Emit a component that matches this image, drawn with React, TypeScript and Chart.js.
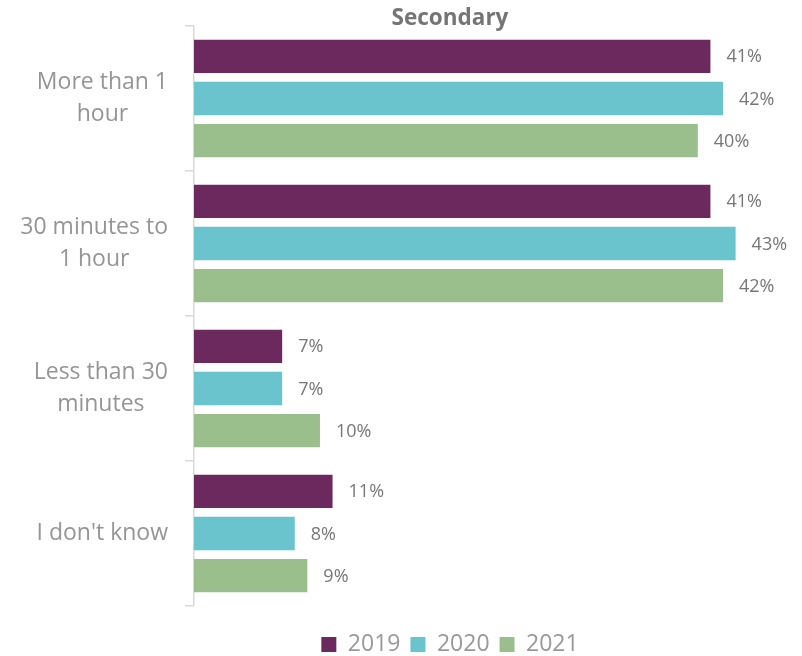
import React, { useEffect, useRef } from "react";
import { Chart, registerables } from "chart.js";

Chart.register(...registerables);

const title = "Secondary";
const categories: string[][] = [
  ["More than 1", "hour"],
  ["30 minutes to", "1 hour"],
  ["Less than 30", "minutes"],
  ["I don't know"],
];
const seriesNames = ["2019", "2020", "2021"];
const values2019 = [41, 41, 7, 11];
const values2020 = [42, 43, 7, 8];
const values2021 = [40, 42, 10, 9];
const seriesColors = ["#6B295E", "#69C4CD", "#9ABF8C"];

const FONT = "'Open Sans', 'DejaVu Sans', sans-serif";

const yLabelPlugin = {
  id: "yLabelPlugin",
  afterDraw(chart: any) {
    const ctx = chart.ctx;
    const yScale = chart.scales.y;
    const labels = chart.data.labels as string[][];
    ctx.save();
    ctx.font = `23px ${FONT}`;
    ctx.fillStyle = "#959595";
    ctx.textAlign = "center";
    ctx.textBaseline = "middle";
    const rightEdge = chart.chartArea.left - 26;
    const lineGap = 31.5;
    labels.forEach((lines, i) => {
      const cy = yScale.getPixelForValue(i);
      const maxW = Math.max(...lines.map((l) => ctx.measureText(l).width));
      const cx = rightEdge - maxW / 2;
      lines.forEach((line, j) => {
        const y = cy + (j - (lines.length - 1) / 2) * lineGap;
        ctx.fillText(line, cx, y);
      });
    });
    ctx.restore();
  },
};

const dataLabelPlugin = {
  id: "dataLabelPlugin",
  afterDatasetsDraw(chart: any) {
    const ctx = chart.ctx;
    ctx.save();
    ctx.font = `18px ${FONT}`;
    ctx.fillStyle = "#777777";
    ctx.textAlign = "left";
    ctx.textBaseline = "middle";
    chart.data.datasets.forEach((ds: any, di: number) => {
      const meta = chart.getDatasetMeta(di);
      meta.data.forEach((bar: any, i: number) => {
        ctx.fillText(`${ds.data[i]}%`, bar.x + 16, bar.y + 1);
      });
    });
    ctx.restore();
  },
};

export default function App() {
  const canvasRef = useRef<HTMLCanvasElement | null>(null);

  useEffect(() => {
    if (!canvasRef.current) return;
    const seriesValues = [values2019, values2020, values2021];
    const chart = new Chart(canvasRef.current, {
      type: "bar",
      data: {
        labels: categories as any,
        datasets: seriesNames.map((name, i) => ({
          label: name,
          data: seriesValues[i],
          backgroundColor: seriesColors[i],
          borderWidth: 0,
          categoryPercentage: 0.873,
          barPercentage: 0.79,
        })),
      },
      options: {
        indexAxis: "y",
        responsive: false,
        animation: false,
        devicePixelRatio: 1,
        layout: { padding: { left: 114, right: 16, top: 0, bottom: -10 } },
        scales: {
          x: {
            display: true,
            min: 0,
            max: 47,
            grid: { display: false },
            ticks: { display: false },
            border: { display: false },
            afterFit: (scale: any) => {
              scale.height = 17;
            },
          },
          y: {
            display: true,
            ticks: { display: false },
            grid: {
              display: true,
              drawOnChartArea: false,
              drawTicks: true,
              tickLength: 9,
              color: "#D9D9D9",
              lineWidth: 1.5,
              offset: true,
            },
            border: { display: true, color: "#D9D9D9", width: 1.5 },
            afterFit: (scale: any) => {
              scale.width = 80;
            },
          },
        },
        plugins: {
          title: {
            display: true,
            text: title,
            color: "#757575",
            font: { family: FONT, size: 22.5, weight: "bold", lineHeight: 1.2 },
            padding: { top: 5, bottom: -6 },
          },
          legend: {
            display: true,
            position: "bottom",
            labels: {
              boxWidth: 15,
              boxHeight: 15,
              padding: 10,
              color: "#999999",
              font: { family: FONT, size: 23 },
            },
          },
          tooltip: { enabled: false },
        },
      },
      plugins: [yLabelPlugin, dataLabelPlugin],
    });
    return () => chart.destroy();
  }, []);

  return (
    <div style={{ position: "fixed", left: 0, top: 0, width: 802, height: 656, background: "#fff" }}>
      <canvas ref={canvasRef} width={802} height={656} style={{ display: "block" }} />
    </div>
  );
}
